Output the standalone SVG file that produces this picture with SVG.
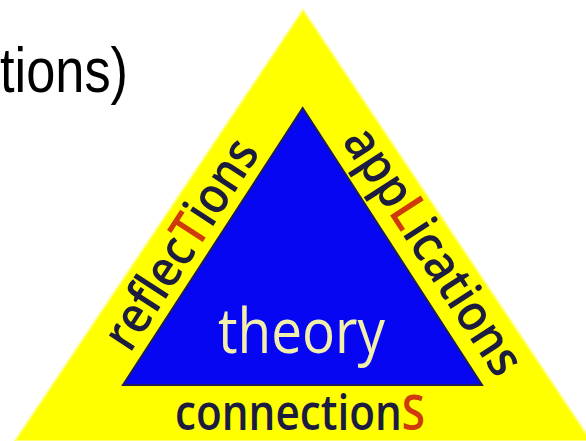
<svg xmlns="http://www.w3.org/2000/svg" width="586" height="441" viewBox="0 0 586 441">
<style>
.lbl{font-family:"Open Sans","Noto Sans","DejaVu Sans",sans-serif;fill:#1c1c40;font-weight:600}
.red{fill:#cf3a0c}
</style>
<rect width="586" height="441" fill="#ffffff"/>
<text x="0" y="92" font-family="Liberation Sans, Arial, sans-serif" font-size="63" fill="#000" textLength="128" lengthAdjust="spacingAndGlyphs">tions)</text>
<g id="outer">
<polygon points="303,10 15,441 591,441" fill="#ffff00" stroke="#ffff70" stroke-width="2"/>
</g>
<g id="inner">
<polygon points="302.7,108 123,385 482,385" fill="#0606f2" stroke="#1e1e58" stroke-width="2"/>
<text class="lbl" x="218" y="353" font-size="62" textLength="167" lengthAdjust="spacingAndGlyphs" style="fill:#f2efaa;font-weight:500">theory</text>
</g>
<g id="connectors"></g>
<g id="reflections">
<text class="lbl" transform="translate(130.1,353.8) rotate(-57)" x="0" y="0" font-size="51" textLength="240" lengthAdjust="spacingAndGlyphs">reflec<tspan class="red">T</tspan>ions</text>
</g>
<g id="applications">
<text class="lbl" transform="translate(341.5,140.7) rotate(57)" x="0" y="0" font-size="51" textLength="285" lengthAdjust="spacingAndGlyphs">app<tspan class="red">L</tspan>ications</text>
</g>
<g id="connections">
<text class="lbl" x="175" y="430" font-size="49" textLength="250" lengthAdjust="spacingAndGlyphs">connection<tspan class="red">S</tspan></text>
</g>
</svg>
